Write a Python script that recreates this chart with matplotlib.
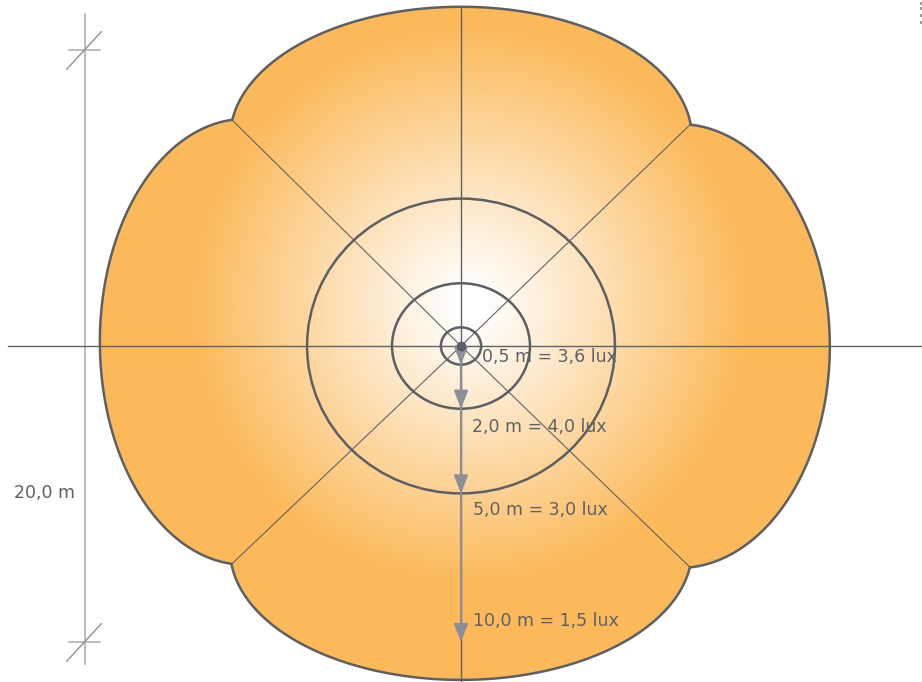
"""Isolux diagram: four-lobed light footprint with contour rings and readings."""
import numpy as np
import matplotlib
matplotlib.use("Agg")
import matplotlib.pyplot as plt
from matplotlib.path import Path
from matplotlib.patches import PathPatch, Ellipse
from matplotlib.colors import to_rgb

PX_PER_M = 29.6  # drawing scale, pixels per metre

# readings along the downward axis
dist_m = [0.5, 2.0, 5.0, 10.0]
lux = [3.6, 4.0, 3.0, 1.5]
# inner contour rings, semi-axes in metres
ring_rx = [0.68, 2.33, 5.20]
ring_ry = [0.63, 2.12, 4.98]
# outer footprint lobes: (cx, cy, rx, ry) in metres
lobe_top = (0.00, 7.03, 7.80, 4.43)
lobe_bottom = (0.00, -6.89, 7.80, 4.39)
lobe_left = (-7.30, 0.14, 4.90, 7.53)
lobe_right = (7.36, 0.00, 5.10, 7.50)
span_m = 20.0  # dimension at left

# layout (metres)
label_x = [0.70, 0.38, 0.39, 0.40]
label_y = [-0.36, -2.73, -5.54, -9.28]

ORANGE = "#FBB959"
OUTLINE = "#5C5F64"
AXLINE = "#5F6368"
ARROW = "#8B8E97"
DIM = "#AAACB0"
TEXT = "#5E6068"

W, H = 922, 682
CX, CY = 461, 346


def outline(lobes, n=4000):
    phi = np.linspace(0, 2 * np.pi, n, endpoint=False)
    c, s = np.cos(phi), np.sin(phi)
    rs = []
    for cx, cy, rx, ry in lobes:
        a = (c / rx) ** 2 + (s / ry) ** 2
        b = -2 * (c * cx / rx ** 2 + s * cy / ry ** 2)
        cc = (cx / rx) ** 2 + (cy / ry) ** 2 - 1
        disc = b ** 2 - 4 * a * cc
        t = np.where(disc >= 0, (-b + np.sqrt(np.clip(disc, 0, None))) / (2 * a), 0.0)
        rs.append(np.where(t > 0, t, 0.0))
    rs = np.array(rs)
    r = rs.max(0)
    who = rs.argmax(0)
    x, y = r * c, r * s
    sw = np.nonzero(who != np.roll(who, 1))[0]
    joints = [(x[i], y[i]) for i in sw]
    return x, y, joints


def main():
    fig = plt.figure(figsize=(W / 100, H / 100), dpi=100)
    ax = fig.add_axes([0, 0, 1, 1])
    x0, x1 = -CX / PX_PER_M, (W - CX) / PX_PER_M
    y0, y1 = -(H - CY) / PX_PER_M, CY / PX_PER_M
    ax.set_xlim(x0, x1)
    ax.set_ylim(y0, y1)
    ax.axis("off")

    ox, oy, joints = outline([lobe_top, lobe_right, lobe_bottom, lobe_left])
    verts = np.column_stack([np.append(ox, ox[0]), np.append(oy, oy[0])])
    path = Path(verts, closed=True)

    # radial white -> orange gradient clipped to the footprint
    gx, gy = np.meshgrid(np.linspace(x0, x1, W), np.linspace(y0, y1, H))
    r = np.hypot(gx - 0.3, gy - 1.4)
    t = np.clip((r - 0.5) / 9.0, 0, 1)[..., None]
    img = (1 - t) * np.ones(3) + t * np.array(to_rgb(ORANGE))
    im = ax.imshow(img, extent=(x0, x1, y0, y1), origin="lower",
                   interpolation="bilinear", zorder=1)
    clip = PathPatch(path, transform=ax.transData, facecolor="none", edgecolor="none")
    ax.add_patch(clip)
    im.set_clip_path(clip)
    ax.add_patch(PathPatch(path, facecolor="none", edgecolor=OUTLINE, lw=1.8, zorder=5))

    # cross and diagonals
    ax.plot([-15.3, x1], [0, 0], color=AXLINE, lw=1.0, zorder=3)
    ax.plot([0, 0], [y0, 11.45], color=AXLINE, lw=1.0, zorder=3)
    for jx, jy in joints:
        ax.plot([0, jx], [0, jy], color=AXLINE, lw=0.8, zorder=3)

    for rx, ry in zip(ring_rx, ring_ry):
        ax.add_patch(Ellipse((0, 0), 2 * rx, 2 * ry, facecolor="none",
                             edgecolor=OUTLINE, lw=1.8, zorder=4))

    tips = list(ring_ry) + [dist_m[-1]]
    for tip in tips:
        ax.annotate("", xy=(0, -tip), xytext=(0, 0),
                    arrowprops=dict(arrowstyle="-|>,head_length=11,head_width=4.3",
                                    mutation_scale=1, color=ARROW, lw=1.5,
                                    shrinkA=0, shrinkB=0), zorder=6)
    ax.plot(0, 0, "o", color=OUTLINE, ms=6, zorder=7)

    for d, l, tx, ty in zip(dist_m, lux, label_x, label_y):
        s = f"{d:.1f} m = {l:.1f} lux".replace(".", ",")
        ax.text(tx, ty, s, ha="left", va="center", fontsize=12.5,
                color=TEXT, zorder=8)

    # 20 m dimension line
    dx = -12.70
    half = span_m / 2
    ax.plot([dx, dx], [-10.74, 11.22], color=DIM, lw=1.1, zorder=2)
    for yy in (half, -half):
        ax.plot([dx - 0.55, dx + 0.50], [yy, yy], color=DIM, lw=1.1, zorder=2)
        ax.plot([dx - 0.62, dx + 0.55], [yy - 0.65, yy + 0.62], color="#8E9095",
                lw=1.0, zorder=2)
    ax.text(-13.04, -4.97, f"{span_m:.1f} m".replace(".", ","), ha="right",
            va="center", fontsize=12.5, color=TEXT)

    # small marks at top right corner
    ax.plot([15.53] * 4, [11.60, 11.41, 11.18, 10.94], "s", color="#9A9A9A",
            ms=1.2, zorder=2)

    fig.savefig("out.png", dpi=100)
    plt.close(fig)


if __name__ == "__main__":
    main()
